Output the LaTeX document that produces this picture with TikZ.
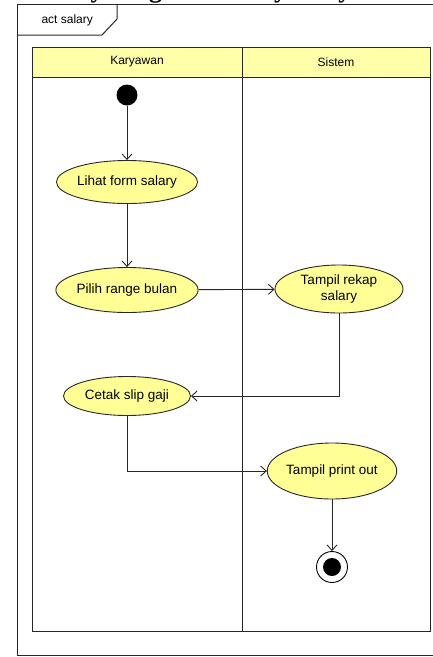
\documentclass[tikz,border=0pt]{standalone}
\usepackage{fontspec}
\setmainfont{Liberation Sans}
\newfontfamily\titlefont{Liberation Serif}
\usetikzlibrary{shapes.geometric,arrows.meta,calc}
\definecolor{actfill}{RGB}{255,255,150}
\definecolor{headfill}{RGB}{255,255,170}
\definecolor{linec}{RGB}{40,40,40}
\tikzset{
  act/.style={ellipse, draw=linec, line width=0.9pt, fill=actfill, inner sep=0pt,
    minimum width=127pt, font=\fontsize{13.5}{16}\selectfont, align=center},
  flow/.style={draw=linec, line width=0.9pt, -{Straight Barb[length=5.5pt,width=10pt]}},
  frameline/.style={draw=linec, line width=1pt},
  lanetext/.style={font=\fontsize{12}{14}\selectfont}
}
\begin{document}
\begin{tikzpicture}[x=1pt,y=-1pt]
\useasboundingbox (0,0) rectangle (433,657);
% cut-off caption
\node[anchor=base west, inner sep=0pt, font=\titlefont\bfseries\fontsize{26}{30}\selectfont] (title) at (15.4,-2.8) {Activity Diagram Salary Karyawan};
% outer frame
\draw[frameline] (17,4.5) rectangle (445,655.5);
\draw[frameline] (117,4.5) -- (117,19) -- (102,35) -- (17,35);
\node[lanetext, anchor=west] (frametitle) at (38,20) {act salary};
% swimlanes
\fill[headfill] (32,47) rectangle (430,77);
\draw[frameline] (32,47) rectangle (430,631);
\draw[frameline] (32,77) -- (430,77);
\draw[frameline] (242,47) -- (242,631);
\node[lanetext] (lane1) at (137,62) {Karyawan};
\node[lanetext] (lane2) at (336,62) {Sistem};
% nodes
\node[circle, fill=black, minimum size=21pt, inner sep=0pt] (start) at (127,95) {};
\node[act, minimum height=43pt] (lihat) at (127,182) {Lihat form salary};
\node[act, minimum height=45pt] (pilih) at (127,290) {Pilih range bulan};
\node[act, minimum height=48pt, minimum width=128pt] (rekap) at (339,289) {Tampil rekap\\salary};
\node[act, minimum height=39pt] (cetak) at (127,396) {Cetak slip gaji};
\node[act, minimum height=56pt] (print) at (332,471) {Tampil print out};
\node[circle, draw=black, line width=0.9pt, fill=white, minimum size=31pt, inner sep=0pt] (end) at (332,567) {};
\node[circle, fill=black, minimum size=18pt, inner sep=0pt] (endin) at (end.center) {};
% flows
\draw[flow] (start) -- (lihat);
\draw[flow] (lihat) -- (pilih);
\draw[flow] (pilih) -- (rekap);
\draw[flow] (rekap.south) |- (cetak.east);
\draw[flow] (cetak.south) |- (print.west);
\draw[flow] (print) -- (end);
\end{tikzpicture}
\end{document}
